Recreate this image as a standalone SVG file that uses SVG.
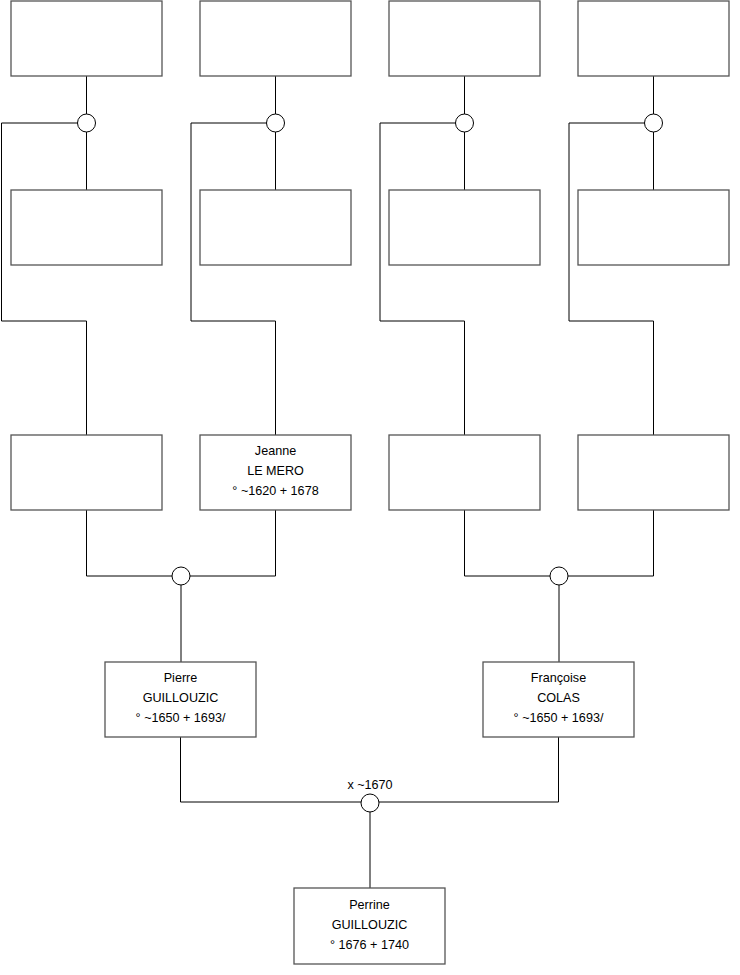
<svg xmlns="http://www.w3.org/2000/svg" width="740" height="975" viewBox="0 0 740 975">
<style>
.box{fill:#fff;stroke:#555;stroke-width:1.3}
.ln{fill:none;stroke:#000;stroke-width:1}
.ci{fill:#fff;stroke:#000;stroke-width:1}
text{font-family:"Liberation Sans",Arial,sans-serif;font-size:12.6px;fill:#000;text-anchor:middle}
</style>
<rect width="740" height="975" fill="#fff"/>
<g id="connectors">
<path class="ln" d="M86.5 76V190M86.5 123H1.5V321H86.5V435"/>
<path class="ln" d="M275.5 76V190M275.5 123H191V321H275.5V435"/>
<path class="ln" d="M464.5 76V190M464.5 123H380V321H464.5V435"/>
<path class="ln" d="M653.5 76V190M653.5 123H569V321H653.5V435"/>
<path class="ln" d="M86.5 510V576H275.5V510M181 576V662"/>
<path class="ln" d="M464.5 510V576H653.5V510M559 576V662"/>
<path class="ln" d="M180.5 737V802H558.5V737M370 802V888"/>
<circle class="ci" cx="86.5" cy="123" r="9"/>
<circle class="ci" cx="275.5" cy="123" r="9"/>
<circle class="ci" cx="464.5" cy="123" r="9"/>
<circle class="ci" cx="653.5" cy="123" r="9"/>
<circle class="ci" cx="181" cy="576" r="9"/>
<circle class="ci" cx="559" cy="576" r="9"/>
<circle class="ci" cx="370" cy="803" r="9"/>
<text x="370" y="789">x ~1670</text>
</g>
<g id="n1"><rect class="box" x="11" y="1" width="151" height="75"/></g>
<g id="n2"><rect class="box" x="200" y="1" width="151" height="75"/></g>
<g id="n3"><rect class="box" x="389" y="1" width="151" height="75"/></g>
<g id="n4"><rect class="box" x="578" y="1" width="151" height="75"/></g>
<g id="n5"><rect class="box" x="11" y="190" width="151" height="75"/></g>
<g id="n6"><rect class="box" x="200" y="190" width="151" height="75"/></g>
<g id="n7"><rect class="box" x="389" y="190" width="151" height="75"/></g>
<g id="n8"><rect class="box" x="578" y="190" width="151" height="75"/></g>
<g id="n9"><rect class="box" x="11" y="435" width="151" height="75"/></g>
<g id="n10"><rect class="box" x="200" y="435" width="151" height="75"/>
<text x="275.5" y="455">Jeanne</text><text x="275.5" y="475">LE MERO</text><text x="275.5" y="495">° ~1620 + 1678</text></g>
<g id="n11"><rect class="box" x="389" y="435" width="151" height="75"/></g>
<g id="n12"><rect class="box" x="578" y="435" width="151" height="75"/></g>
<g id="n13"><rect class="box" x="105" y="662" width="151" height="75"/>
<text x="180.5" y="682">Pierre</text><text x="180.5" y="702">GUILLOUZIC</text><text x="180.5" y="722">° ~1650 + 1693/</text></g>
<g id="n14"><rect class="box" x="483" y="662" width="151" height="75"/>
<text x="558.5" y="682">Françoise</text><text x="558.5" y="702">COLAS</text><text x="558.5" y="722">° ~1650 + 1693/</text></g>
<g id="n15"><rect class="box" x="294" y="888" width="151" height="76"/>
<text x="369.5" y="909">Perrine</text><text x="369.5" y="929">GUILLOUZIC</text><text x="369.5" y="949">° 1676 + 1740</text></g>
</svg>
